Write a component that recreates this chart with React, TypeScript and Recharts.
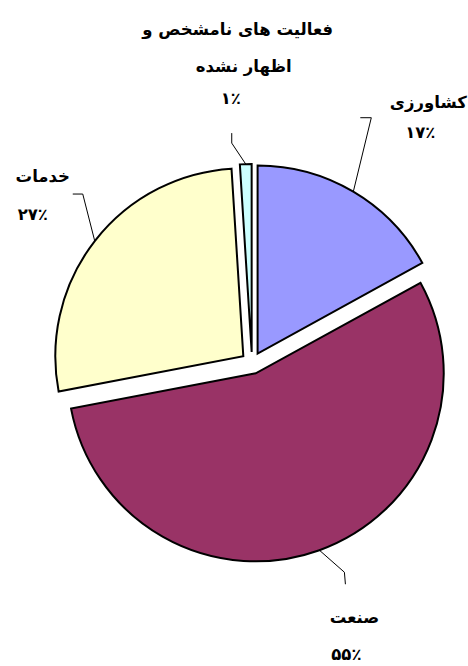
import React from 'react';
import { PieChart, Pie, Cell, Sector } from 'recharts';

const CATEGORIES = ['کشاورزی', 'صنعت', 'خدمات', 'فعالیت های نامشخص و اظهار نشده'];
const NAME_LINES = [['کشاورزی'], ['صنعت'], ['خدمات'], ['فعالیت های نامشخص و', 'اظهار نشده']];
const VALUES = [17, 55, 27, 1];
const COLORS = ['#9999FF', '#993366', '#FFFFCC', '#CCFFFF'];

const W = 468;
const H = 666;
const EXPLODE = 11;
const FONT = 'DejaVu Sans';
const FONT_SIZE = 16.5;

// label layout, offsets from the slice's mid-arc point
const LABEL_LAYOUT = [
  { elbow: [18, -74], tail: [7, -74], lines: [[75, -89]], pct: [67, -59] },
  { elbow: [25, 22], tail: [26, 34], lines: [[35, 67]], pct: [27, 104] },
  { elbow: [-12, -47], tail: [-22, -47], lines: [[-52, -65]], pct: [-62, -27] },
  { elbow: [-14, -21], tail: [-14, -31], lines: [[-8, -135], [-2, -98]], pct: [-15, -66] },
];

const data = CATEGORIES.map((name, i) => ({ name, value: VALUES[i] }));

const toPersian = (n: number) =>
  String(n).replace(/[0-9]/g, (d) => '۰۱۲۳۴۵۶۷۸۹'[Number(d)]);

const RAD = Math.PI / 180;

const explodedShape = (props: any) => {
  const { cx, cy, startAngle, endAngle } = props;
  const mid = props.midAngle ?? (startAngle + endAngle) / 2;
  const dx = EXPLODE * Math.cos(-mid * RAD);
  const dy = EXPLODE * Math.sin(-mid * RAD);
  return <Sector {...props} cx={cx + dx} cy={cy + dy} />;
};

const renderLabel = (props: any) => {
  const { cx, cy, midAngle, outerRadius, index, value } = props;
  const c = Math.cos(-midAngle * RAD);
  const s = Math.sin(-midAngle * RAD);
  const px = cx + (outerRadius + EXPLODE) * c;
  const py = cy + (outerRadius + EXPLODE) * s;
  const L = LABEL_LAYOUT[index];
  const pts = [
    [px, py],
    [px + L.elbow[0], py + L.elbow[1]],
    [px + L.tail[0], py + L.tail[1]],
  ];
  return (
    <g key={`lbl-${index}`}>
      <polyline
        points={pts.map((p) => p.join(',')).join(' ')}
        fill="none"
        stroke="#000"
        strokeWidth={1}
      />
      {NAME_LINES[index].map((t, k) => (
        <text
          key={k}
          x={px + L.lines[k][0]}
          y={py + L.lines[k][1]}
          textAnchor="middle"
          dominantBaseline="central"
          fontFamily={FONT}
          fontSize={FONT_SIZE}
          fontWeight="bold"
          fill="#000"
        >
          {t}
        </text>
      ))}
      <text
        x={px + L.pct[0]}
        y={py + L.pct[1]}
        textAnchor="middle"
        dominantBaseline="central"
        fontFamily={FONT}
        fontSize={FONT_SIZE}
        fontWeight="bold"
        fill="#000"
      >
        {toPersian(value) + '٪'}
      </text>
    </g>
  );
};

export default function App() {
  return (
    <div style={{ position: 'absolute', left: 0, top: 0, width: W, height: H, background: '#fff' }}>
      <PieChart width={W} height={H} margin={{ top: 0, right: 0, bottom: 0, left: 0 }}>
        <Pie
          data={data}
          dataKey="value"
          nameKey="name"
          cx={252}
          cy={363}
          outerRadius={188}
          startAngle={90}
          endAngle={-270}
          stroke="#000"
          strokeWidth={2}
          isAnimationActive={false}
          label={renderLabel}
          labelLine={false}
          shape={explodedShape}
          activeShape={explodedShape}
          inactiveShape={explodedShape}
        >
          {data.map((d, i) => (
            <Cell key={d.name} fill={COLORS[i]} />
          ))}
        </Pie>
      </PieChart>
    </div>
  );
}
